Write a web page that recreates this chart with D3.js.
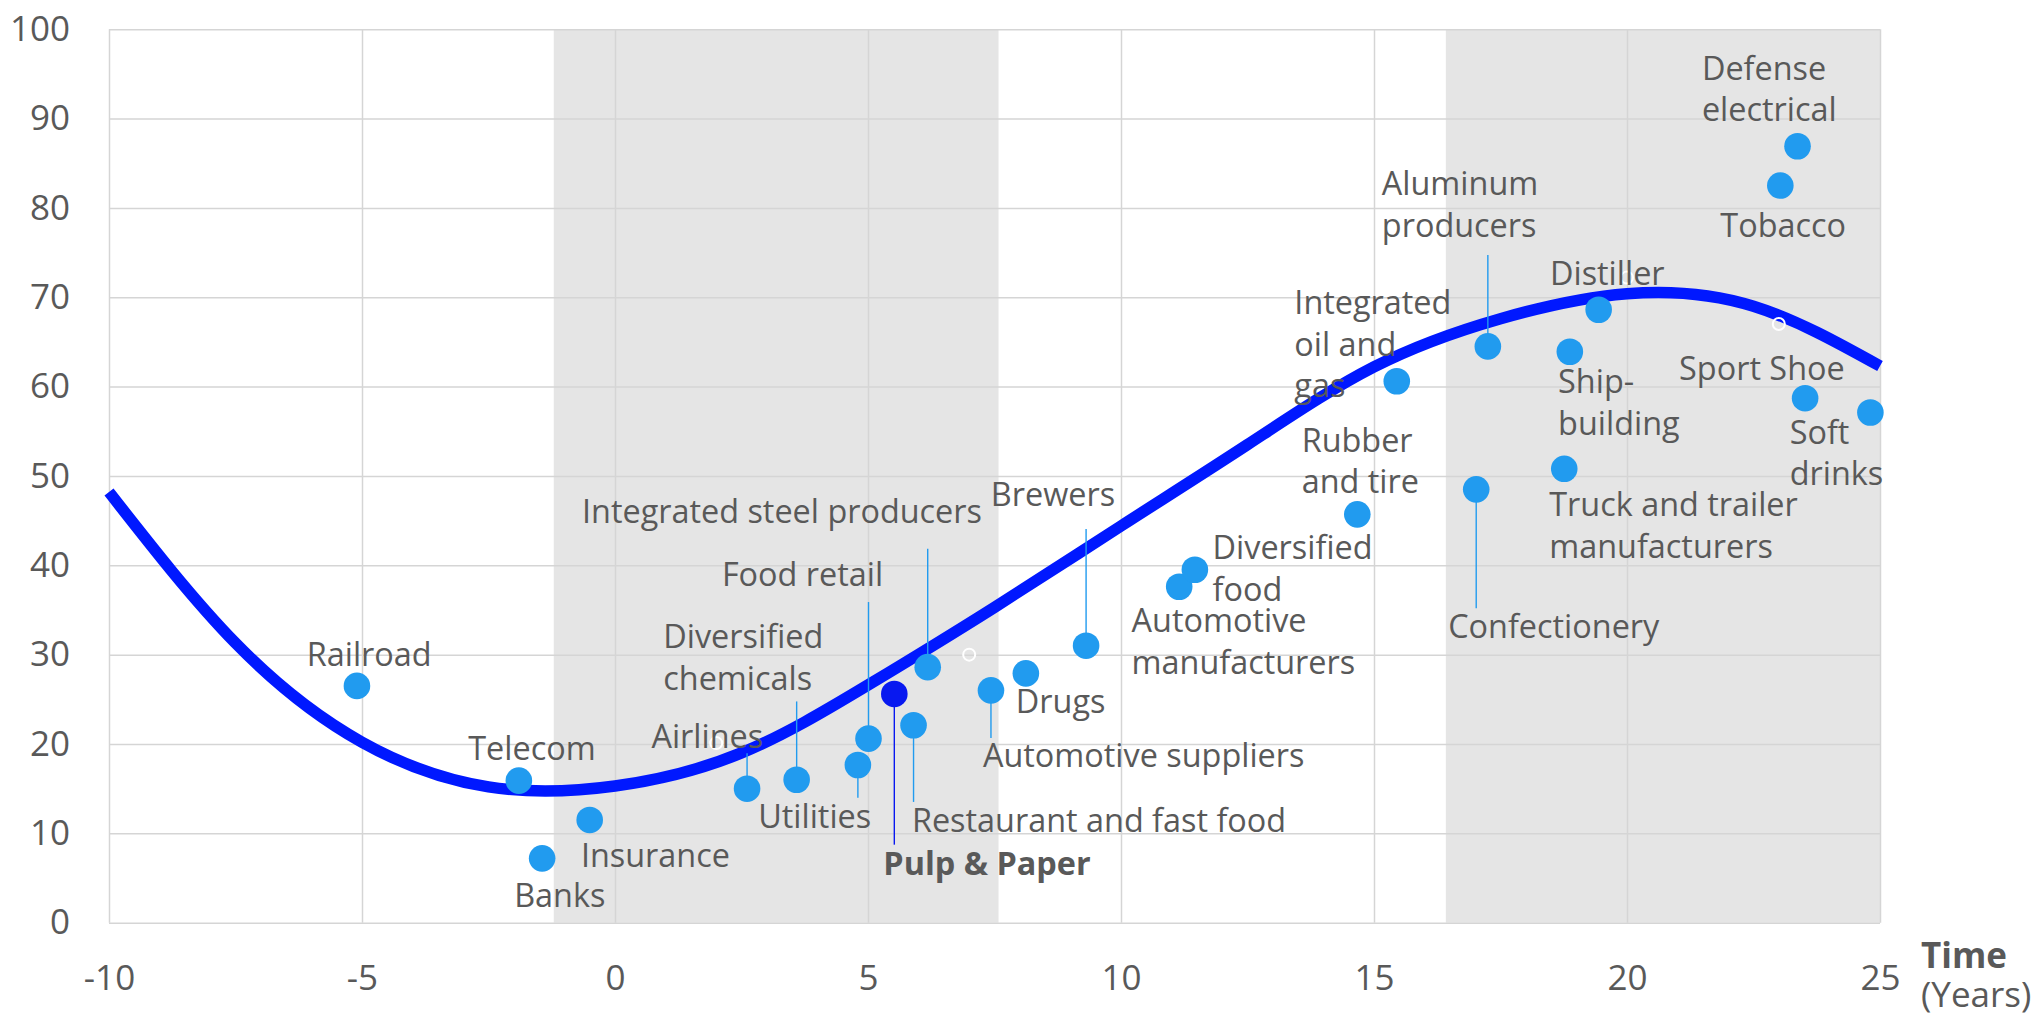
<!DOCTYPE html>
<html>
<head>
<meta charset="utf-8">
<script src="https://cdn.jsdelivr.net/npm/d3@7"></script>
<style>
  html, body { margin: 0; padding: 0; background: #ffffff; }
  svg { display: block; }
  text { font-family: "Open Sans", "Noto Sans", sans-serif; fill: #595959; }
</style>
</head>
<body>
<svg id="chart" width="2033" height="1017"></svg>
<script>
// ---------------- data ----------------
const sectors = [
  "Railroad", "Telecom", "Banks", "Insurance", "Airlines",
  "Diversified\nchemicals", "Utilities", "Food retail", "Pulp & Paper",
  "Restaurant and fast food", "Integrated steel producers", "Automotive suppliers",
  "Drugs", "Brewers", "Automotive\nmanufacturers", "Diversified\nfood",
  "Rubber\nand tire", "Integrated\noil and\ngas", "Confectionery",
  "Aluminum\nproducers", "Truck and trailer\nmanufacturers", "Ship-\nbuilding",
  "Distiller", "Tobacco", "Defense\nelectrical", "Sport Shoe", "Soft\ndrinks"
];
const timeYears = [
  -5.1, -1.9, -1.44, -0.5, 2.61,
  3.59, 4.80, 5.01, 5.52,
  5.90, 6.18, 7.43,
  8.12, 9.31, 11.15, 11.46,
  14.67, 15.45, 17.02,
  17.25, 18.76, 18.87,
  19.44, 23.03, 23.37, 23.52, 24.81
];
const scores = [
  26.5, 15.9, 7.2, 11.5, 15.0,
  16.0, 17.65, 20.6, 25.6,
  22.1, 28.6, 26.0,
  27.9, 31.0, 37.6, 39.5,
  45.7, 60.6, 48.5,
  64.5, 50.8, 63.9,
  68.6, 82.5, 86.9, 58.7, 57.1
];
const highlighted = ["Pulp & Paper"];

// trend curve
const trendX = [-10, -7.5, -5, -2.5, 0, 2.5, 5, 7.5, 10, 12.5, 15, 17.5, 20, 22.5, 25];
const trendY = [48.2, 31.3, 20.2, 15.2, 15.3, 19.0, 26.6, 35.3, 44.4, 53.5, 62.2, 67.6, 70.4, 69.0, 62.3];

// empty (hollow) markers
const hollowX = [2.0, 7.0, 20.0, 23.0];
const hollowY = [20.1, 30.0, 72.2, 67.0];

// shaded phases
const bandStart = [-1.21, 16.42];
const bandEnd = [7.58, 25];

// axes
const xTicks = [-10, -5, 0, 5, 10, 15, 20, 25];
const yTicks = [0, 10, 20, 30, 40, 50, 60, 70, 80, 90, 100];
const xTitle = "Time";
const xSubTitle = "(Years)";

// ---------------- layout (pixels, relative to each point) ----------------
// [dx, dy to first baseline, leader end dy (null = none)]
const labelLayout = [
  [-50.2, -20, null], [-50.6, -20.6, null], [-28, 48.3, null], [-8.8, 46.7, null], [-95.6, -40.4, -35.4],
  [-133.4, -131.7, -78.3], [-99.7, 62.7, 32.7], [-146.6, -152.3, -136.6], [-11, 180.7, 150.7],
  [-1.6, 106.7, 76.7], [-345.7, -144, -118.3], [-8, 76.6, 47.6],
  [-10, 40, null], [-95.3, -139.3, -116.7], [-47.6, 45.7, null], [17.7, -10.7, null],
  [-55.6, -62.6, null], [-102.4, -67, null], [-28, 149, 119],
  [-106, -151.3, -91.3], [-15, 47.2, null], [-11.7, 41.5, null],
  [-48.7, -24.5, null], [-60, 51, null], [-95.6, -66.4, null], [-126, -18, null], [-80.7, 31.4, null]
];

// ---------------- chart ----------------
const svg = d3.select("#chart");
const x = d3.scaleLinear().domain([-10, 25]).range([109, 1880]);
const y = d3.scaleLinear().domain([0, 100]).range([922.7, 29.2]);

const pointColor = "#219bef";
const darkColor = "#0818f0";
const curveColor = "#0018ff";
const gridColor = "#d5d5d5";

// bands
svg.append("g").selectAll("rect")
  .data(bandStart.map((s, i) => ({ s, e: bandEnd[i] })))
  .join("rect")
  .attr("x", d => x(d.s))
  .attr("width", d => x(d.e) - x(d.s))
  .attr("y", y(100))
  .attr("height", y(0) - y(100))
  .attr("fill", "#e5e5e5");

// grid + y axis labels
const yAxis = svg.append("g")
  .attr("transform", `translate(${x(-10)},0)`)
  .call(d3.axisLeft(y).tickValues(yTicks).tickFormat(d => String(d))
    .tickSize(-(x(25) - x(-10))).tickPadding(39));
yAxis.select(".domain").remove();
yAxis.selectAll("line").attr("stroke", gridColor).attr("stroke-width", 1.5);
yAxis.selectAll("text").style("font-size", "35px").attr("fill", "#595959")
  .style("font-family", '"Open Sans", sans-serif');

const xAxis = svg.append("g")
  .attr("transform", `translate(0,${y(0)})`)
  .call(d3.axisBottom(x).tickValues(xTicks).tickFormat(d => String(d))
    .tickSize(-(y(0) - y(100))).tickPadding(42));
xAxis.select(".domain").remove();
xAxis.selectAll("line").attr("stroke", gridColor).attr("stroke-width", 1.5);
xAxis.selectAll("text").style("font-size", "35px").attr("fill", "#595959")
  .style("font-family", '"Open Sans", sans-serif');

// axis title
svg.append("text")
  .attr("x", 1921)
  .attr("y", 968.3)
  .style("font-size", "35px")
  .style("font-weight", "bold")
  .text(xTitle);
svg.append("text")
  .attr("x", 1921)
  .attr("y", 1006.7)
  .style("font-size", "35px")
  .text(xSubTitle);

// trend curve
const trend = trendX.map((t, i) => [t, trendY[i]]);
svg.append("path")
  .datum(trend)
  .attr("fill", "none")
  .attr("stroke", curveColor)
  .attr("stroke-width", 11.5)
  .attr("d", d3.line().x(d => x(d[0])).y(d => y(d[1])).curve(d3.curveNatural));

// hollow markers
svg.append("g").selectAll("circle")
  .data(hollowX.map((t, i) => [t, hollowY[i]]))
  .join("circle")
  .attr("cx", d => x(d[0]))
  .attr("cy", d => y(d[1]))
  .attr("r", 6)
  .attr("fill", "none")
  .attr("stroke", "#ffffff")
  .attr("stroke-width", 2);

const pts = sectors.map((name, i) => ({
  name, t: timeYears[i], v: scores[i],
  dx: labelLayout[i][0], dy: labelLayout[i][1], ly: labelLayout[i][2],
  hi: highlighted.includes(name)
}));

// leader lines
svg.append("g").selectAll("line")
  .data(pts.filter(d => d.ly !== null))
  .join("line")
  .attr("x1", d => x(d.t))
  .attr("x2", d => x(d.t))
  .attr("y1", d => y(d.v))
  .attr("y2", d => y(d.v) + d.ly)
  .attr("stroke", d => d.hi ? darkColor : pointColor)
  .attr("stroke-width", 1.4);

// points
svg.append("g").selectAll("circle")
  .data(pts)
  .join("circle")
  .attr("cx", d => x(d.t))
  .attr("cy", d => y(d.v))
  .attr("r", 13.3)
  .attr("fill", d => d.hi ? darkColor : pointColor);

// labels
const lab = svg.append("g").selectAll("text")
  .data(pts)
  .join("text")
  .attr("x", d => x(d.t) + d.dx)
  .attr("y", d => y(d.v) + d.dy)
  .style("font-size", "32.4px")
  .style("font-weight", d => d.hi ? "bold" : "normal");
lab.each(function(d) {
  const el = d3.select(this);
  d.name.split("\n").forEach((line, k) => {
    el.append("tspan")
      .attr("x", x(d.t) + d.dx)
      .attr("dy", k === 0 ? 0 : 41.5)
      .text(line);
  });
});
</script>
</body>
</html>
